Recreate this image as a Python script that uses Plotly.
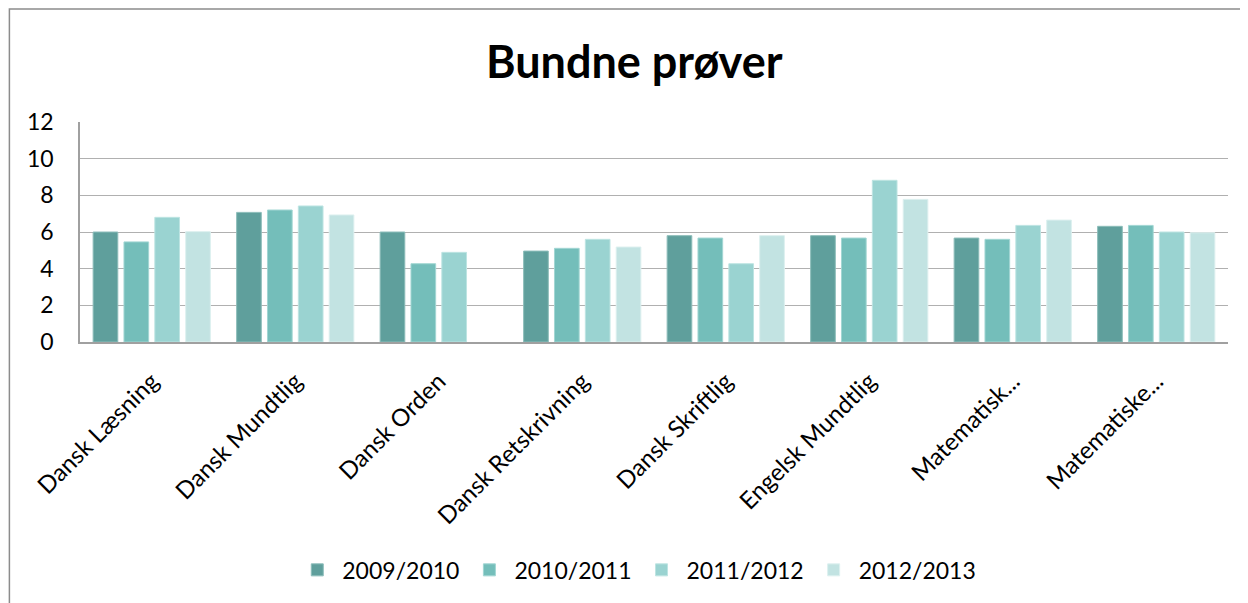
import plotly.graph_objects as go

categories = ["Dansk Læsning", "Dansk Mundtlig", "Dansk Orden", "Dansk Retskrivning",
              "Dansk Skriftlig", "Engelsk Mundtlig", "Matematisk...", "Matematiske..."]
seasons = ["2009/2010", "2010/2011", "2011/2012", "2012/2013"]

v_2009 = [6.0, 7.07, 6.0, 4.96, 5.8, 5.8, 5.67, 6.31]
v_2010 = [5.46, 7.2, 4.27, 5.11, 5.67, 5.67, 5.6, 6.36]
v_2011 = [6.8, 7.42, 4.89, 5.6, 4.27, 8.82, 6.36, 6.0]
v_2012 = [6.02, 6.93, None, 5.18, 5.8, 7.78, 6.65, 5.96]

y_ticks = [0, 2, 4, 6, 8, 10, 12]

COLORS = ["#5F9F9C", "#74BEBA", "#9AD3D1", "#C2E3E2"]
EDGES = ["#8CBDBA", "#A2D6D3", "#BDE4E2", "#DDF0EF"]

fig = go.Figure()
for name, vals, col, edge in zip(seasons, [v_2009, v_2010, v_2011, v_2012], COLORS, EDGES):
    fig.add_trace(go.Bar(
        x=categories, y=vals, name=name,
        marker=dict(color=col, line=dict(color=edge, width=1)),
    ))

# page body has an 8px margin, so the figure is 8px smaller and shifted
fig.update_layout(
    width=1240, height=595,
    paper_bgcolor="white", plot_bgcolor="white",
    font=dict(family="Lato, 'Open Sans', sans-serif", color="#000000"),
    margin=dict(l=72, r=20, t=114, b=261, autoexpand=False),
    title=dict(text="<b>Bundne prøver</b>", x=0.505, xanchor="center",
               y=0.909, yanchor="middle", font=dict(size=45, color="#000000")),
    barmode="group", bargap=0.14, bargroupgap=0.2,
    showlegend=True,
    legend=dict(orientation="h", x=0.485, xanchor="center", y=-1.036, yanchor="middle",
                font=dict(size=23), itemwidth=40, traceorder="normal"),
    # chart frame: only left and top edges are visible in the picture
    shapes=[dict(type="rect", xref="paper", yref="paper", x0=-0.0615, x1=1.1, y0=-1.3, y1=1.514,
                 line=dict(color="#8C8C8C", width=1.5), layer="below")],
)
fig.update_yaxes(range=[0, 12], tickvals=y_ticks, showgrid=True, gridcolor="#B0B0B0", gridwidth=1.2,
                 showline=True, linecolor="#A0A0A0", linewidth=1.5, zeroline=False,
                 tickfont=dict(size=23), ticks="", ticklabelstandoff=20)
fig.update_xaxes(showline=True, linecolor="#A0A0A0", linewidth=1.5, tickangle=-45,
                 tickfont=dict(size=24), ticks="", ticklabelstandoff=14)

fig.write_html("out.html")
